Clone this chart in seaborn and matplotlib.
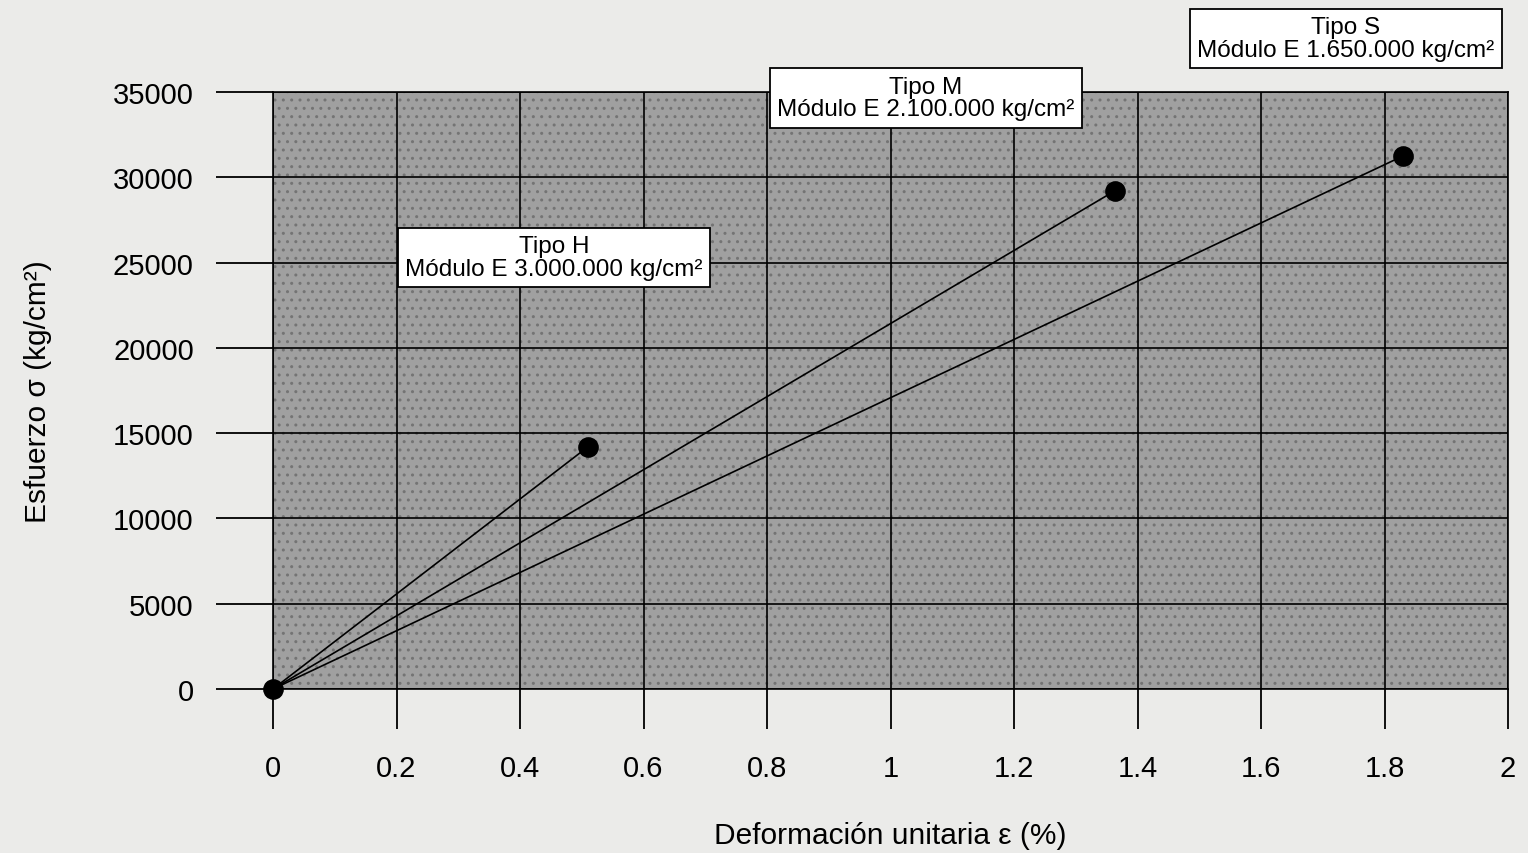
import numpy as np
import pandas as pd
import matplotlib
matplotlib.use("Agg")
import matplotlib.pyplot as plt
import seaborn as sns

# datos
tipos = ["Tipo H", "Tipo M", "Tipo S"]
modulos = ["3.000.000", "2.100.000", "1.650.000"]
deformacion = [0.51, 1.363, 1.83]      # %
esfuerzo = [14200, 29200, 31250]       # kg/cm2

x_ticks = [0, 0.2, 0.4, 0.6, 0.8, 1.0, 1.2, 1.4, 1.6, 1.8, 2.0]
x_labels = ["0", "0.2", "0.4", "0.6", "0.8", "1", "1.2", "1.4", "1.6", "1.8", "2"]
y_ticks = [0, 5000, 10000, 15000, 20000, 25000, 30000, 35000]

# posicion de las cajas de texto (x, y en datos)
pos_cajas = [(0.455, 25300), (1.057, 34650), (1.737, 38150)]

sns.set_style("white")
plt.rcParams["font.family"] = ["Liberation Sans", "DejaVu Sans"]
plt.rcParams["text.color"] = "black"
plt.rcParams["axes.labelcolor"] = "black"
plt.rcParams["xtick.color"] = "black"
plt.rcParams["ytick.color"] = "black"

filas = []
for t, x, y in zip(tipos, deformacion, esfuerzo):
    filas.append({"tipo": t, "eps": 0.0, "sigma": 0.0})
    filas.append({"tipo": t, "eps": x, "sigma": y})
df_lineas = pd.DataFrame(filas)
df_puntos = pd.DataFrame({"eps": [0.0] + deformacion, "sigma": [0.0] + esfuerzo})

fig = plt.figure(figsize=(15.28, 8.54), dpi=100)
fig.patch.set_facecolor("#ebebe9")
ax = fig.add_axes([273 / 1528, 1 - 690 / 854, (1508 - 273) / 1528, (690 - 93) / 854])
ax.set_facecolor("#a0a0a0")
ax.patch.set_hatch("..")
ax.patch.set_edgecolor("#747474")

sns.lineplot(data=df_lineas, x="eps", y="sigma", units="tipo", estimator=None,
             color="black", lw=1.2, ax=ax, zorder=3)
sns.scatterplot(data=df_puntos, x="eps", y="sigma", color="black", s=190,
                edgecolor="black", ax=ax, zorder=4, clip_on=False)

ax.set_xlim(0, 2)
ax.set_ylim(0, 35000)
ax.set_xticks(x_ticks)
ax.set_xticklabels(x_labels)
ax.set_yticks(y_ticks)
ax.grid(True, color="black", lw=1.2)
ax.set_axisbelow(True)
for s in ax.spines.values():
    s.set_color("black")
    s.set_linewidth(1.2)

ax.tick_params(axis="y", left=True, direction="out", length=41, width=1.3,
               pad=16, labelsize=21, colors="black")
ax.tick_params(axis="x", bottom=True, direction="out", length=29, width=1.3,
               pad=18, labelsize=21, colors="black")

ax.set_xlabel("Deformación unitaria ε (%)", fontsize=21.5, labelpad=28)
ax.set_ylabel("Esfuerzo σ (kg/cm²)", fontsize=21.5, labelpad=44)

for t, m, (bx, by) in zip(tipos, modulos, pos_cajas):
    ax.text(bx, by, f"{t}\nMódulo E {m} kg/cm²", ha="center", va="center",
            ma="center", fontsize=17.5, zorder=6, linespacing=1.05,
            bbox=dict(boxstyle="square,pad=0.3", fc="white", ec="black", lw=1.3))

fig.savefig("out.png", dpi=100, facecolor=fig.get_facecolor())
